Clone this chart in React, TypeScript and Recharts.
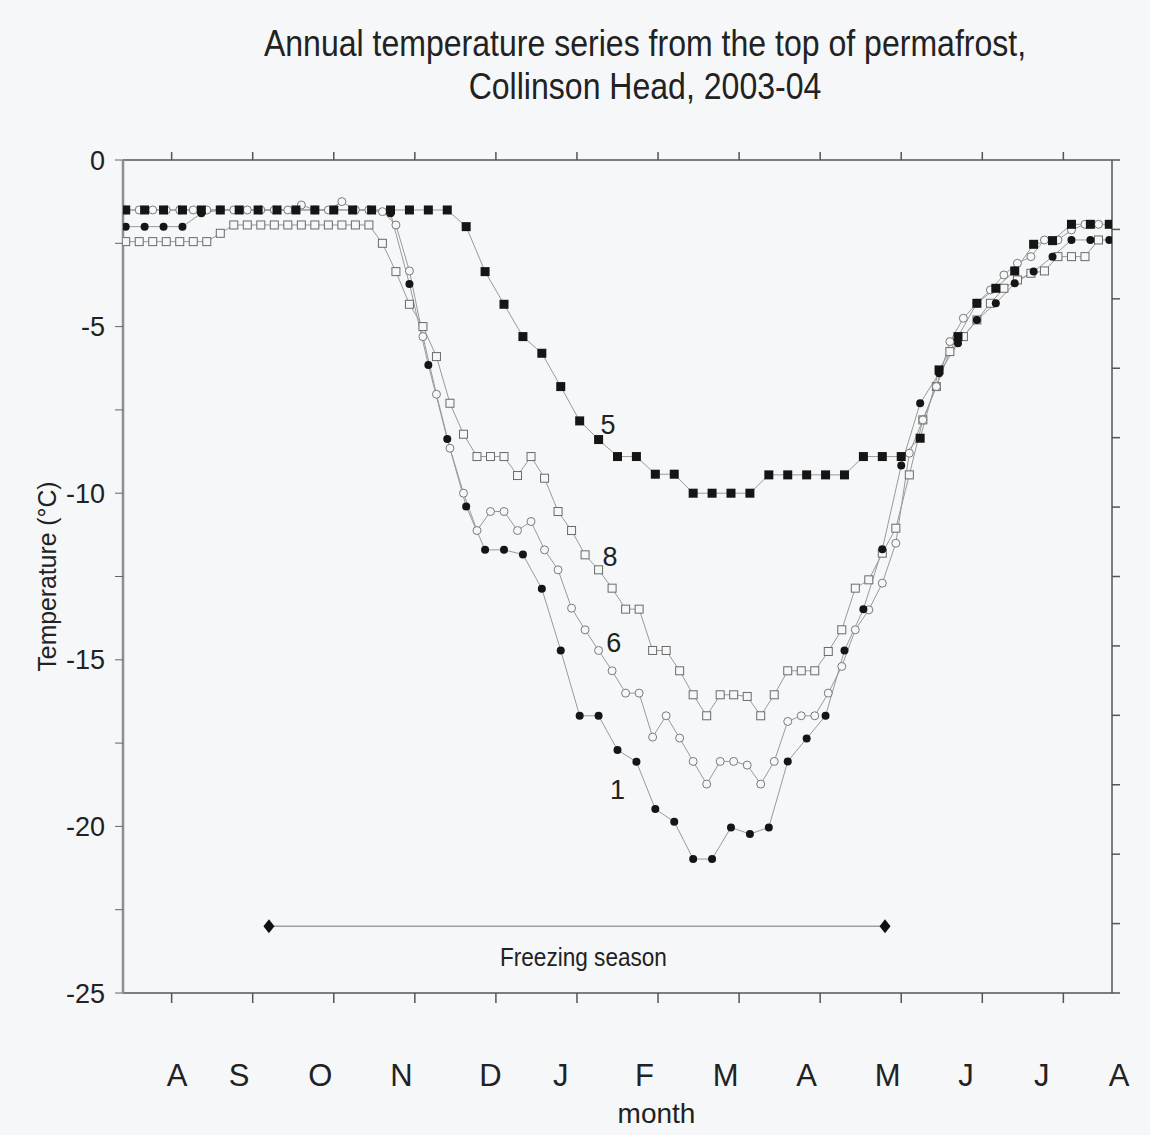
import React from "react";
import { ComposedChart, Line, Scatter, XAxis, YAxis } from "recharts";

// days since start of record (about 25 Jul 2003); markers weekly for 1 and 5, every 5 days for 6 and 8
const WEEKLY_START = 1;
const WEEKLY_STEP = 7;
const FIVE_DAY_START = 1;
const FIVE_DAY_STEP = 5;

// thermistor 1 (filled circles)
const SERIES_1 = [
  -2.0, -2.0, -2.0, -2.0, -1.6, -1.5, -1.5, -1.5, -1.5, -1.5, -1.5, -1.5, -1.5, -1.5, -1.6,
  -3.72, -6.15, -8.37, -10.4, -11.7, -11.7, -11.84, -12.87, -14.72, -16.68, -16.68, -17.71,
  -18.06, -19.48, -19.86, -20.98, -20.98, -20.03, -20.23, -20.03, -18.05, -17.36, -16.68,
  -14.72, -13.48, -11.68, -9.17, -7.3, -6.4, -5.5, -4.8, -4.3, -3.7, -3.35, -2.9, -2.4, -2.4, -2.4,
];

// thermistor 5 (filled squares)
const SERIES_5 = [
  -1.5, -1.5, -1.5, -1.5, -1.5, -1.5, -1.5, -1.5, -1.5, -1.5, -1.5, -1.5, -1.5, -1.5, -1.5, -1.5,
  -1.5, -1.5, -2.0, -3.35, -4.33, -5.3, -5.8, -6.8, -7.83, -8.39, -8.9, -8.9, -9.43, -9.43, -10,
  -10, -10, -10, -9.45, -9.45, -9.45, -9.45, -9.45, -8.9, -8.9, -8.9, -8.35, -6.3, -5.3, -4.3,
  -3.85, -3.33, -2.53, -2.42, -1.93, -1.93, -1.93,
];

// thermistor 6 (open circles)
const SERIES_6 = [
  -1.5, -1.5, -1.5, -1.5, -1.5, -1.5, -1.5, -1.5, -1.5, -1.5, -1.5, -1.5, -1.5, -1.35, -1.5,
  -1.5, -1.25, -1.5, -1.5, -1.55, -1.95, -3.33, -5.3, -7.03, -8.65, -10.0, -11.12, -10.55,
  -10.55, -11.12, -10.85, -11.7, -12.3, -13.45, -14.1, -14.72, -15.33, -16.0, -16.0, -17.32,
  -16.68, -17.35, -18.05, -18.73, -18.05, -18.05, -18.16, -18.73, -18.05, -16.85, -16.68,
  -16.68, -16.0, -15.2, -14.1, -13.5, -12.7, -11.5, -8.8, -7.8, -6.8, -5.45, -4.75, -4.3, -3.9,
  -3.45, -3.1, -2.9, -2.4, -2.4, -2.1, -1.93, -1.93,
];

// thermistor 8 (open squares)
const SERIES_8 = [
  -2.45, -2.45, -2.45, -2.45, -2.45, -2.45, -2.45, -2.2, -1.95, -1.95, -1.95, -1.95, -1.95,
  -1.95, -1.95, -1.95, -1.95, -1.95, -1.95, -2.5, -3.35, -4.33, -5.0, -5.9, -7.3, -8.23, -8.9,
  -8.9, -8.9, -9.47, -8.9, -9.55, -10.55, -11.12, -11.85, -12.3, -12.85, -13.48, -13.48,
  -14.72, -14.72, -15.33, -16.05, -16.68, -16.05, -16.05, -16.1, -16.68, -16.05, -15.33,
  -15.33, -15.33, -14.75, -14.1, -12.85, -12.6, -11.8, -11.05, -9.45, -7.8, -6.8, -5.75, -5.3,
  -4.8, -4.3, -3.85, -3.6, -3.4, -3.33, -2.9, -2.9, -2.9, -2.4,
];

const X_DOMAIN = [0, 366];
const X_TICKS = [18, 48, 78, 108, 138, 168, 198, 228, 258, 288, 318, 348];
const MONTH_LABELS = ["A", "S", "O", "N", "D", "J", "F", "M", "A", "M", "J", "J", "A"];
const MONTH_LABEL_DAYS = [20, 43, 73, 103, 136, 162, 193, 223, 253, 283, 312, 340, 366];
const Y_TICKS = [-25, -22.5, -20, -17.5, -15, -12.5, -10, -7.5, -5, -2.5, 0];
const RIGHT_TICKS = [0, 1, 2, 3, 4, 5, 6, 7, 8, 9, 10, 11, 12];

const FREEZE_DAYS = [54, 282];
const FREEZE_TEMP = -23;
const FREEZE_TEXT = "Freezing season";
const FREEZE_TEXT_DAY = 170.4;
const FREEZE_TEXT_TEMP = -23.92;

const CURVE_NAMES = ["5", "8", "6", "1"];
const CURVE_NAME_DAYS = [179.5, 180.2, 181.6, 183];
const CURVE_NAME_TEMPS = [-7.95, -11.9, -14.5, -18.9];

const FONT = "'Liberation Sans', Arial, sans-serif";
const BG = "#f5f7f9";
const LINE_GREY = "#9a9a9a";
const AXIS_GREY = "#555";

function makeSeries(start: number, step: number, temps: number[]) {
  return temps.map((temp, i) => ({ day: start + step * i, temp }));
}

const data1 = makeSeries(WEEKLY_START, WEEKLY_STEP, SERIES_1);
const data5 = makeSeries(WEEKLY_START, WEEKLY_STEP, SERIES_5);
const data6 = makeSeries(FIVE_DAY_START, FIVE_DAY_STEP, SERIES_6);
const data8 = makeSeries(FIVE_DAY_START, FIVE_DAY_STEP, SERIES_8);
const freezeData = FREEZE_DAYS.map((day) => ({ day, temp: FREEZE_TEMP }));
const textData = [
  ...CURVE_NAMES.map((text, i) => ({
    day: CURVE_NAME_DAYS[i],
    temp: CURVE_NAME_TEMPS[i],
    text,
    size: 27,
    squeeze: 0,
  })),
  { day: FREEZE_TEXT_DAY, temp: FREEZE_TEXT_TEMP, text: FREEZE_TEXT, size: 26, squeeze: 167 },
];

type DotProps = { cx?: number; cy?: number; index?: number; payload?: any };

const filledSquare = (p: DotProps) =>
  p.cx == null || p.cy == null ? (
    <g key={`fs${p.index}`} />
  ) : (
    <rect key={`fs${p.index}`} x={p.cx - 4.5} y={p.cy - 4.5} width={9} height={9} fill="#151515" />
  );

const openSquare = (p: DotProps) =>
  p.cx == null || p.cy == null ? (
    <g key={`os${p.index}`} />
  ) : (
    <rect
      key={`os${p.index}`}
      x={p.cx - 4}
      y={p.cy - 4}
      width={8}
      height={8}
      fill={BG}
      stroke="#6a6a6a"
      strokeWidth={1}
    />
  );

const openCircle = (p: DotProps) =>
  p.cx == null || p.cy == null ? (
    <g key={`oc${p.index}`} />
  ) : (
    <circle key={`oc${p.index}`} cx={p.cx} cy={p.cy} r={4} fill={BG} stroke="#7a7a7a" strokeWidth={1} />
  );

const filledCircle = (p: DotProps) =>
  p.cx == null || p.cy == null ? (
    <g key={`fc${p.index}`} />
  ) : (
    <circle key={`fc${p.index}`} cx={p.cx} cy={p.cy} r={4} fill="#151515" />
  );

const diamond = (p: DotProps) =>
  p.cx == null || p.cy == null ? (
    <g key={`dm${p.index}`} />
  ) : (
    <path
      key={`dm${p.index}`}
      d={`M${p.cx},${p.cy - 7} L${p.cx + 5.5},${p.cy} L${p.cx},${p.cy + 7} L${p.cx - 5.5},${p.cy} Z`}
      fill="#111"
    />
  );

const textShape = (p: any) => (
  <text
    x={p.cx}
    y={p.cy}
    textAnchor="middle"
    dominantBaseline="central"
    fontFamily={FONT}
    fontSize={p.payload.size}
    fill="#222"
    textLength={p.payload.squeeze || undefined}
    lengthAdjust={p.payload.squeeze ? "spacingAndGlyphs" : undefined}
  >
    {p.payload.text}
  </text>
);

function MonthTick(props: any) {
  const { x, y, index } = props;
  const shift = index === MONTH_LABELS.length - 1 ? 7 : 0;
  return (
    <text x={x + shift} y={y + 65} textAnchor="middle" fontFamily={FONT} fontSize={31} fill="#222">
      {MONTH_LABELS[index]}
    </text>
  );
}

function MonthTitle(props: any) {
  const vb = props.viewBox;
  return (
    <text
      x={vb.x + vb.width / 2 + 39}
      y={vb.y + 110}
      textAnchor="middle"
      fontFamily={FONT}
      fontSize={28}
      fill="#222"
    >
      month
    </text>
  );
}

function TempTitle(props: any) {
  const vb = props.viewBox;
  const cx = 47;
  const cy = vb.y + vb.height / 2;
  return (
    <text
      x={cx}
      y={cy}
      transform={`rotate(-90 ${cx} ${cy})`}
      textAnchor="middle"
      dominantBaseline="central"
      fontFamily={FONT}
      fontSize={26}
      fill="#222"
      textLength={190}
      lengthAdjust="spacingAndGlyphs"
    >
      Temperature (°C)
    </text>
  );
}

const noLabel = () => "";

export default function App() {
  return (
    <div style={{ position: "absolute", left: 0, top: 0, width: 1150, height: 1135, background: BG }}>
      <div
        style={{
          position: "absolute",
          left: 140,
          top: 22,
          width: 1010,
          textAlign: "center",
          fontFamily: FONT,
          fontSize: 36,
          lineHeight: "43px",
          color: "#222",
          transform: "scaleX(0.89)",
          transformOrigin: "505px 0",
        }}
      >
        Annual temperature series from the top of permafrost,
        <br />
        Collinson Head, 2003-04
      </div>
      <ComposedChart width={1150} height={1135} margin={{ top: 140, right: 0, bottom: 27, left: 0 }}>
        <XAxis
          xAxisId="axis1"
          type="number"
          dataKey="day"
          domain={X_DOMAIN}
          ticks={X_TICKS}
          interval={0}
          tickFormatter={noLabel}
          tickSize={10}
          height={20}
          stroke={AXIS_GREY}
          strokeWidth={1.5}
          allowDataOverflow
        />
        <XAxis
          xAxisId="axis2"
          type="number"
          dataKey="day"
          domain={X_DOMAIN}
          ticks={MONTH_LABEL_DAYS}
          interval={0}
          axisLine={false}
          tickLine={false}
          tick={<MonthTick />}
          height={95}
          label={{ content: MonthTitle }}
          allowDataOverflow
        />
        <XAxis
          xAxisId="top"
          orientation="top"
          type="number"
          dataKey="day"
          domain={X_DOMAIN}
          ticks={X_TICKS}
          interval={0}
          tickFormatter={noLabel}
          tickSize={8}
          height={20}
          stroke={AXIS_GREY}
          strokeWidth={1.5}
          allowDataOverflow
        />
        <YAxis
          yAxisId="left"
          type="number"
          domain={[-25, 0]}
          ticks={Y_TICKS}
          interval={0}
          width={123}
          tickSize={8}
          tickMargin={10}
          tickFormatter={(v: number) => (v % 5 === 0 ? String(v) : "")}
          tick={{ fontFamily: FONT, fontSize: 27, fill: "#222" }}
          axisLine={{ stroke: "#8e8e8e", strokeWidth: 2.5 }}
          tickLine={{ stroke: "#666" }}
          label={{ content: TempTitle }}
          allowDataOverflow
        />
        <YAxis
          yAxisId="right"
          orientation="right"
          type="number"
          domain={[0, 12]}
          ticks={RIGHT_TICKS}
          interval={0}
          width={38}
          tickSize={8}
          tickFormatter={noLabel}
          stroke={AXIS_GREY}
          strokeWidth={1.5}
          allowDataOverflow
        />

        <Line
          xAxisId="axis1"
          yAxisId="left"
          data={data8}
          dataKey="temp"
          type="linear"
          stroke={LINE_GREY}
          strokeWidth={1}
          dot={openSquare}
          activeDot={false}
          isAnimationActive={false}
        />
        <Line
          xAxisId="axis1"
          yAxisId="left"
          data={data6}
          dataKey="temp"
          type="linear"
          stroke={LINE_GREY}
          strokeWidth={1}
          dot={openCircle}
          activeDot={false}
          isAnimationActive={false}
        />
        <Line
          xAxisId="axis1"
          yAxisId="left"
          data={data1}
          dataKey="temp"
          type="linear"
          stroke={LINE_GREY}
          strokeWidth={1}
          dot={filledCircle}
          activeDot={false}
          isAnimationActive={false}
        />
        <Line
          xAxisId="axis1"
          yAxisId="left"
          data={data5}
          dataKey="temp"
          type="linear"
          stroke={LINE_GREY}
          strokeWidth={1}
          dot={filledSquare}
          activeDot={false}
          isAnimationActive={false}
        />
        <Line
          xAxisId="axis1"
          yAxisId="left"
          data={freezeData}
          dataKey="temp"
          type="linear"
          stroke="#a0a0a0"
          strokeWidth={1.5}
          dot={diamond}
          activeDot={false}
          isAnimationActive={false}
        />
        <Scatter
          xAxisId="axis1"
          yAxisId="left"
          data={textData}
          dataKey="temp"
          shape={textShape}
          isAnimationActive={false}
        />
      </ComposedChart>
    </div>
  );
}
